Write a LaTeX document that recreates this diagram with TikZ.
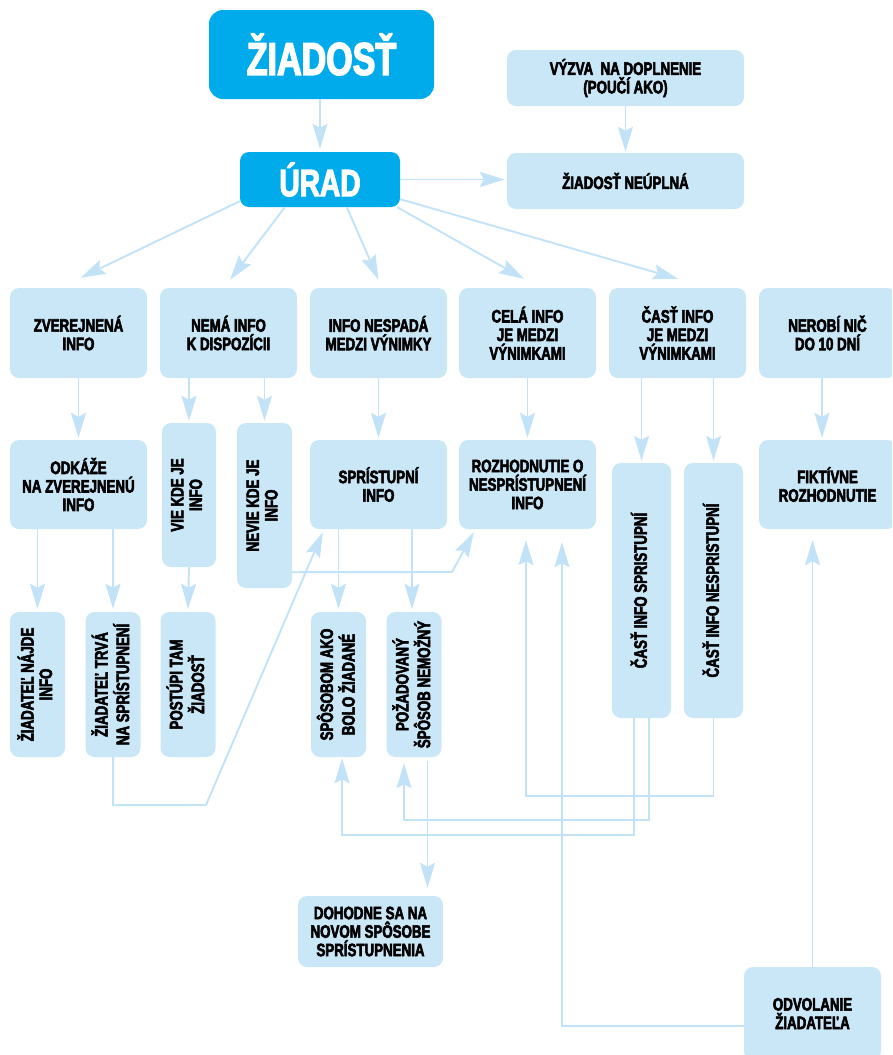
\documentclass[tikz,border=0pt]{standalone}
\usepackage{fontspec}
\usepackage{graphicx}
\newfontfamily\cond{Liberation Sans}[FakeStretch=0.74,FakeBold=3]
\usetikzlibrary{arrows.meta,calc}
\definecolor{lb}{RGB}{202,231,248}
\definecolor{ln}{RGB}{194,226,248}
\definecolor{dk}{RGB}{0,171,236}
\tikzset{
  box/.style={fill=lb, rounded corners=9pt, inner sep=0pt, align=center,
    font=\cond\bfseries\fontsize{18}{18.5}\selectfont, text=black},
  bigbox/.style={fill=dk, inner sep=0pt, align=center, text=white},
  conn/.style={draw=ln, line width=1.9pt, -{Stealth[length=25pt,width=15pt,inset=4pt]}},
  wire/.style={draw=ln, line width=1.9pt},
}
\newcommand\vtext[1]{\rotatebox{90}{\begin{tabular}{@{}c@{}}#1\end{tabular}}}
\begin{document}
\begin{tikzpicture}[x=1pt,y=-1pt]
\useasboundingbox (0,0) rectangle (892,1055);
\clip (0,0) rectangle (892,1055);
% top
\node[bigbox, rounded corners=14pt, minimum width=225pt, minimum height=89pt,
  font=\cond\bfseries\fontsize{46}{46}\selectfont] (ziad) at (321.5,54.5) {ŽIADOSŤ};
\node[bigbox, rounded corners=9pt, minimum width=160pt, minimum height=55pt,
  font=\cond\bfseries\fontsize{38}{38}\selectfont] (urad) at (320,179.5) {ÚRAD};
\node[box, minimum width=237pt, minimum height=56pt] (vyzva) at (625.5,78) {VÝZVA~ NA DOPLNENIE\\(POUČÍ AKO)};
\node[box, minimum width=237pt, minimum height=56pt] (neupl) at (625.5,181) {ŽIADOSŤ NEÚPLNÁ};
% row 2
\node[box, minimum width=137pt, minimum height=90pt] (zver) at (78.5,333) {ZVEREJNENÁ\\INFO};
\node[box, minimum width=137pt, minimum height=90pt] (nema) at (228.5,333) {NEMÁ INFO\\K DISPOZÍCII};
\node[box, minimum width=137pt, minimum height=90pt] (nesp) at (378.5,333) {INFO NESPADÁ\\MEDZI VÝNIMKY};
\node[box, minimum width=137pt, minimum height=90pt] (cela) at (527.5,333) {CELÁ INFO\\JE MEDZI\\VÝNIMKAMI};
\node[box, minimum width=137pt, minimum height=90pt] (cast) at (677.5,333) {ČASŤ INFO\\JE MEDZI\\VÝNIMKAMI};
\node[box, minimum width=137pt, minimum height=90pt] (nerobi) at (827.5,333) {NEROBÍ NIČ\\DO 10 DNÍ};
% row 3
\node[box, minimum width=137pt, minimum height=89pt] (odk) at (78.5,484.5) {ODKÁŽE\\NA ZVEREJNENÚ\\INFO};
\node[box, minimum width=54pt, minimum height=144pt] (vie) at (189,495) {\vtext{VIE KDE JE\\INFO}};
\node[box, minimum width=55pt, minimum height=165pt] (nevie) at (264.5,505.5) {\vtext{NEVIE KDE JE\\INFO}};
\node[box, minimum width=137pt, minimum height=89pt] (spr) at (378.5,484.5) {SPRÍSTUPNÍ\\INFO};
\node[box, minimum width=137pt, minimum height=89pt] (rozh) at (527.5,484.5) {ROZHODNUTIE O\\NESPRÍSTUPNENÍ\\INFO};
\node[box, minimum width=59pt, minimum height=255pt] (cspr) at (641.5,590.5) {\vtext{ČASŤ INFO SPRISTUPNÍ}};
\node[box, minimum width=59pt, minimum height=255pt] (cnespr) at (713.5,590.5) {\vtext{ČASŤ INFO NESPRISTUPNÍ}};
\node[box, minimum width=137pt, minimum height=89pt] (fikt) at (827.5,484.5) {FIKTÍVNE\\ROZHODNUTIE};
% row 4
\node[box, minimum width=55pt, minimum height=145pt] (najde) at (37.5,684.5) {\vtext{ŽIADATEĽ NÁJDE\\INFO}};
\node[box, minimum width=55pt, minimum height=145pt] (trva) at (113,684.5) {\vtext{ŽIADATEĽ TRVÁ\\NA SPRÍSTUPNENÍ}};
\node[box, minimum width=55pt, minimum height=145pt] (post) at (188,684.5) {\vtext{POSTÚPI TAM\\ŽIADOSŤ}};
\node[box, minimum width=55pt, minimum height=145pt] (spos) at (338.5,684.5) {\vtext{SPÔSOBOM AKO\\BOLO ŽIADANÉ}};
\node[box, minimum width=55pt, minimum height=145pt] (pozad) at (414,684.5) {\vtext{POŽADOVANÝ\\ŠPÔSOB NEMOŽNÝ}};
% row 5
\node[box, minimum width=145pt, minimum height=71pt] (dohod) at (370.5,931.5) {DOHODNE SA NA\\NOVOM SPÔSOBE\\SPRÍSTUPNENIA};
\node[box, minimum width=137pt, minimum height=93pt] (odvol) at (812.5,1013.5) {ODVOLANIE\\ŽIADATEĽA};

% connectors top
\draw[conn, shorten >=3pt] (ziad.south -| urad.north) -- (urad.north);
\draw[conn, shorten >=1pt] (vyzva.south) -- (neupl.north);
\draw[conn, shorten >=2pt] (urad.east) -- (urad.east -| neupl.west);
\draw[conn] ($(urad.south west)+(0,-6)$) -- ($(zver.north)+(2,-10)$);
\draw[conn] ($(urad.south west)+(45,0)$) -- ($(nema.north)+(1.5,-8)$);
\draw[conn] ($(urad.south west)+(107,0)$) -- ($(nesp.north)+(0,-8)$);
\draw[conn] ($(urad.south east)+(-3,0)$) -- ($(cela.north)+(-3.5,-9)$);
\draw[conn] ($(urad.south east)+(0,-8)$) -- ($(cast.north)+(0.5,-9)$);
% row 2 -> row 3
\draw[conn, shorten >=2pt] (zver.south) -- (odk.north);
\draw[conn, shorten >=2pt] (vie.north |- nema.south) -- (vie.north);
\draw[conn, shorten >=2pt] (nevie.north |- nema.south) -- (nevie.north);
\draw[conn, shorten >=2pt] (nesp.south) -- (spr.north);
\draw[conn, shorten >=2pt] (cela.south) -- (rozh.north);
\draw[conn, shorten >=2pt] (cspr.north |- cast.south) -- (cspr.north);
\draw[conn, shorten >=2pt] (cnespr.north |- cast.south) -- (cnespr.north);
\draw[conn, shorten >=2pt] ($(nerobi.south)+(-5.5,0)$) -- ($(fikt.north)+(-5.5,0)$);
% row 3 -> row 4
\draw[conn, shorten >=3pt] (odk.south -| najde.north) -- (najde.north);
\draw[conn, shorten >=3pt] (odk.south -| trva.north) -- (trva.north);
\draw[conn, shorten >=3pt] (vie.south) -- (post.north);
\draw[conn, shorten >=3pt] (spr.south -| spos.north) -- (spos.north);
\draw[conn, shorten >=3pt] ($(spr.south -| pozad.north)+(-2,0)$) -- ($(pozad.north)+(-2,0)$);
% feedback routes
\draw[conn] (trva.south) -- ++(0,48) -- (206,805) -- ($(spr.south west)+(13,3)$);
\coordinate (nv) at ($(nevie.south east)+(0,-16)$);
\draw[conn] (nv) -- (452,572) -- ($(rozh.south west)+(15,3)$);
\draw[conn, shorten >=1pt] ($(cspr.south)+(-7.5,0)$) -- ++(0,117) -| ($(spos.south)+(3.5,0)$);
\draw[conn, shorten >=6pt] ($(cspr.south)+(7.5,0)$) -- ++(0,102) -| ($(pozad.south)+(-10,0)$);
\coordinate (pz) at ($(pozad.south)+(13.5,4)$);
\draw[conn, shorten >=8pt] (pz) -- (pz |- dohod.north);
\draw[conn, shorten >=11pt] (cnespr.south) -- ++(0,78) -| ($(rozh.south)+(-1.5,0)$);
\draw[conn, shorten >=13pt] ($(odvol.north west)+(0,59)$) -| ($(rozh.south)+(34.5,0)$);
\draw[conn, shorten >=11pt] (odvol.north) -- (odvol.north |- fikt.south);
\end{tikzpicture}
\end{document}
